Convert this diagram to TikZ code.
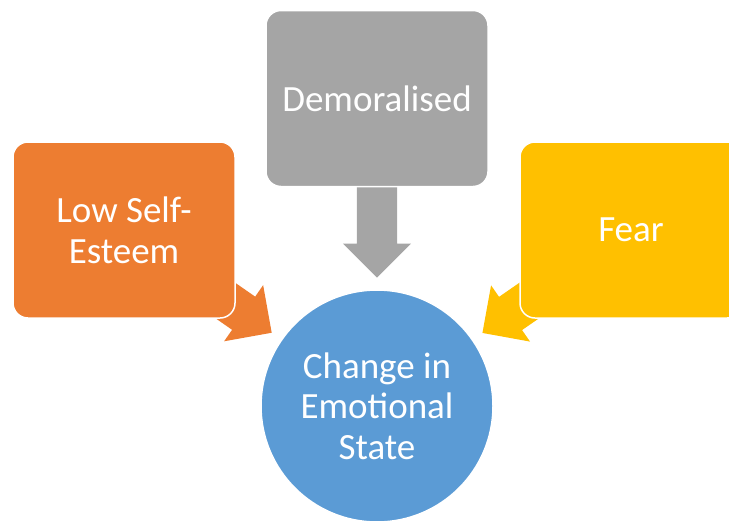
\documentclass[tikz,border=0pt]{standalone}
\usepackage{fontspec}
\setmainfont{Carlito}
\usetikzlibrary{positioning,calc,backgrounds,shapes.arrows}
\definecolor{lowfill}{HTML}{ED7D31}
\definecolor{demfill}{HTML}{A5A5A5}
\definecolor{fearfill}{HTML}{FFC000}
\definecolor{circfill}{HTML}{5B9BD5}
\tikzset{box/.style = {rectangle,rounded corners=15pt,draw=white,line width=1.5pt,minimum width=222pt,minimum height=176pt,text=white,align=center,font=\fontsize{37}{40.6}\selectfont},
         blockarrow/.style = {single arrow,minimum width=68pt,single arrow head extend=14pt,inner xsep=0pt,inner ysep=20pt,anchor=tip}}

\begin{document}
\begin{tikzpicture}[x=1pt,y=1pt]
        \useasboundingbox (0,0) rectangle (729,-520);
        \node [box,fill=lowfill] (low) at (124,-230) {Low Self-\\Esteem};
        \node [box,fill=demfill] (dem) at (377,-98.5) {Demoralised};
        \node [box,fill=fearfill] (fear) at (631,-230) {Fear};
        \node [circle,fill=circfill,draw=white,line width=1.5pt,minimum size=232pt,text=white,align=center,font=\fontsize{37}{40.6}\selectfont] (circ) at (377,-406) {Change in\\Emotional\\State};
        \begin{scope}[on background layer]
        \path let \p1 = ($(circ)-(low)$), \n1 = {atan2(\y1,\x1)} in
            node [blockarrow,fill=lowfill,minimum height=95pt,rotate=\n1] (lowarrow) at ($(circ)!128pt!(low)$) {};
        \path let \p1 = ($(circ)-(dem)$), \n1 = {atan2(\y1,\x1)} in
            node [blockarrow,fill=demfill,minimum height=91pt,rotate=\n1] (demarrow) at ($(circ)!128pt!(dem)$) {};
        \path let \p1 = ($(circ)-(fear)$), \n1 = {atan2(\y1,\x1)} in
            node [blockarrow,fill=fearfill,minimum height=95pt,rotate=\n1] (feararrow) at ($(circ)!128pt!(fear)$) {};
        \end{scope}
    \end{tikzpicture}
\end{document}
